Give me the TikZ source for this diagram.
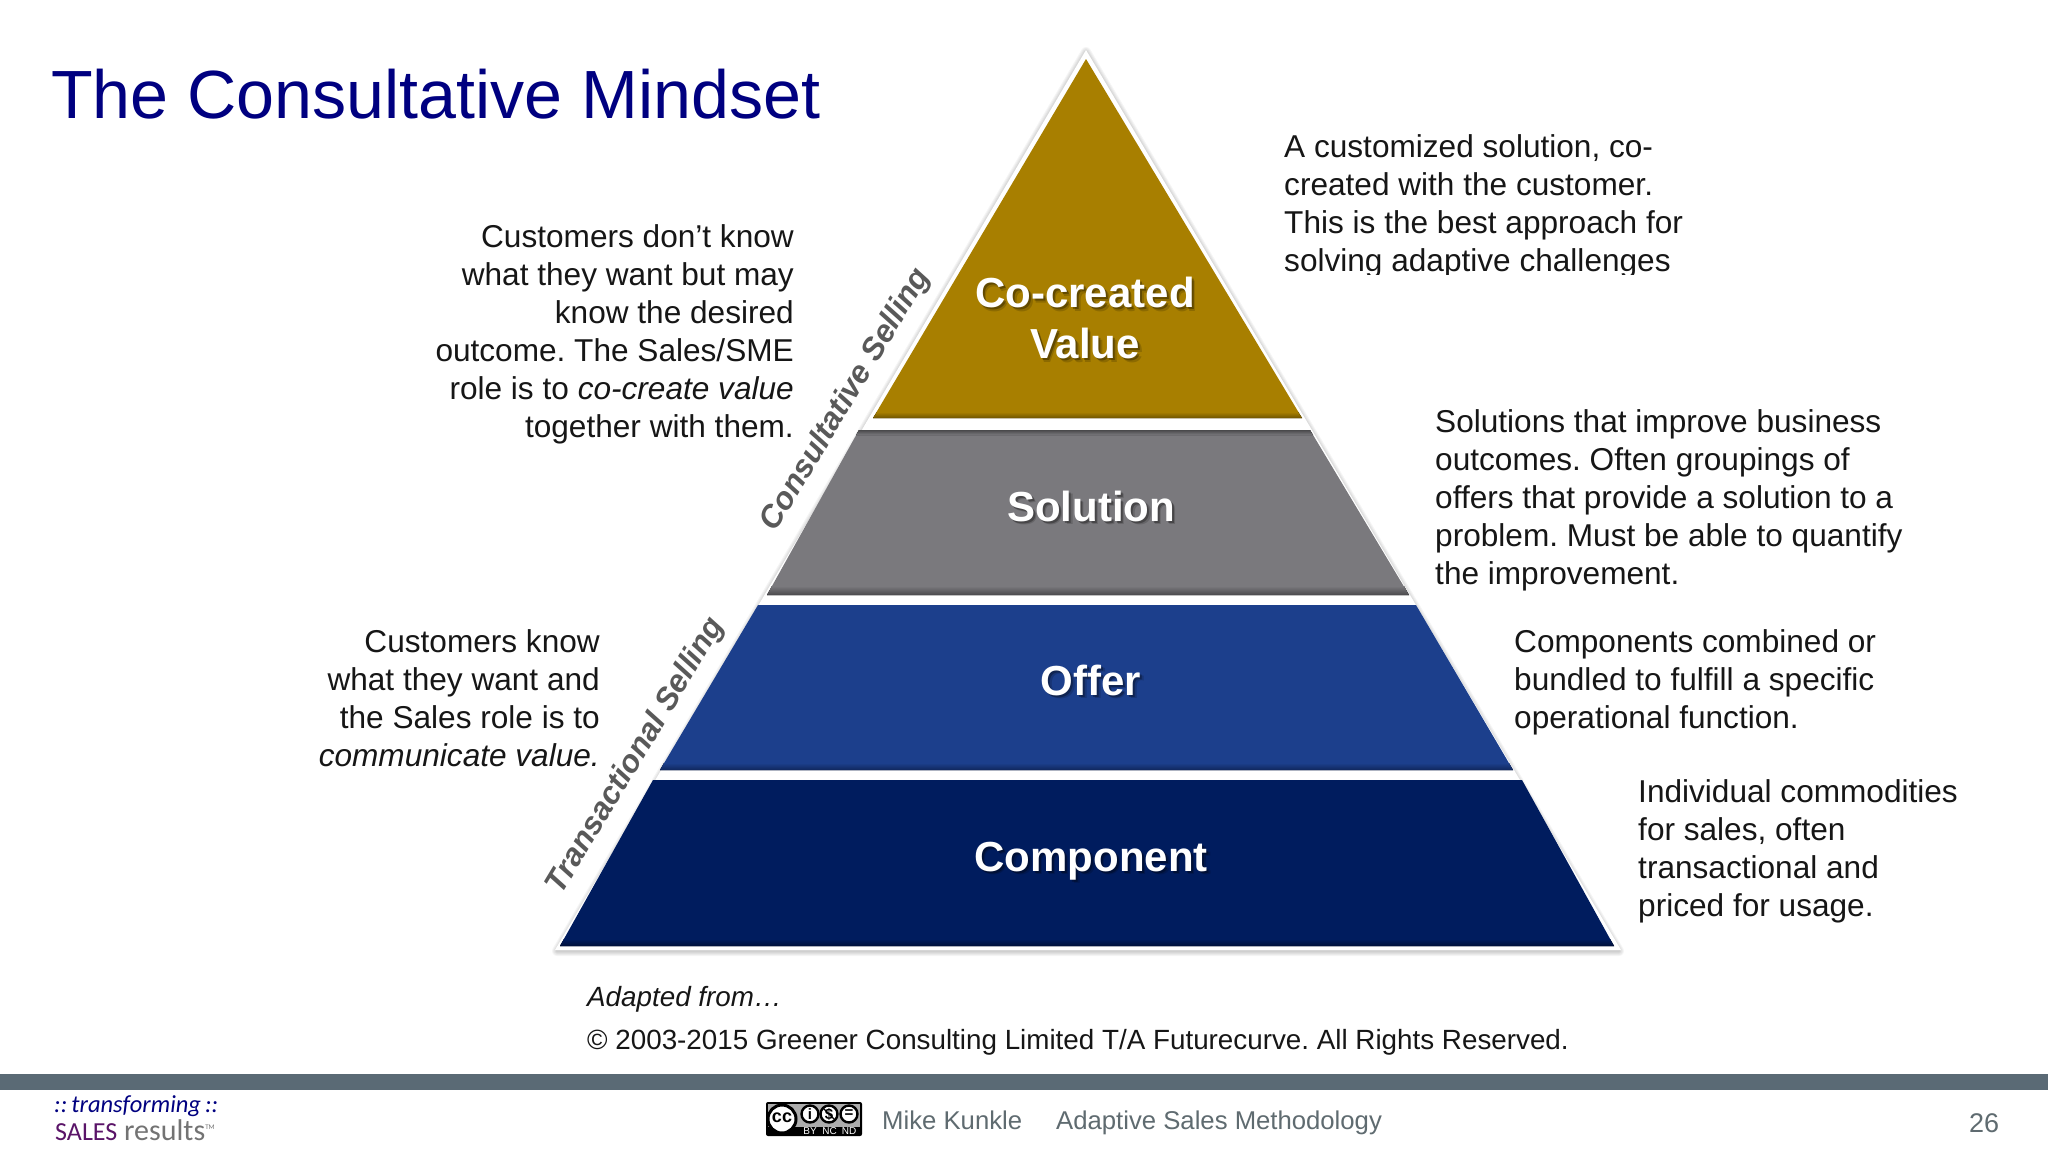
\documentclass[tikz,border=0pt]{standalone}
\usepackage{fontspec}
\setmainfont{Liberation Sans}
\newfontfamily\logofont{Carlito}
\frenchspacing
\definecolor{titleblue}{HTML}{000080}
\definecolor{gold}{HTML}{A87F00}
\definecolor{golddark}{HTML}{6F5500}
\definecolor{solgray}{HTML}{7A797D}
\definecolor{soldark}{HTML}{4A494C}
\definecolor{offerblue}{HTML}{1C3F8C}
\definecolor{offerdark}{HTML}{10275C}
\definecolor{compblue}{HTML}{001C5E}
\definecolor{compdark}{HTML}{000F38}
\definecolor{barcol}{HTML}{5A6A75}
\definecolor{bodytext}{HTML}{161616}
\definecolor{labelgray}{HTML}{595959}
\definecolor{foot}{HTML}{5F6B70}
\tikzset{
  x=1pt,y=-1pt,
  body/.style={inner sep=0pt,text=bodytext,font=\fontsize{31.6}{38}\selectfont,text depth=0pt},
  bodyr/.style={body,align=right,anchor=north east},
  bodyl/.style={body,align=left,anchor=north west},
  tier/.style={inner sep=0pt,text=white,font=\fontsize{42}{51}\selectfont\bfseries,align=center},
  side/.style={inner sep=0pt,text=labelgray,font=\fontsize{31.4}{31.4}\selectfont\bfseries\itshape},
  foottext/.style={inner sep=0pt,text=foot,font=\fontsize{25.7}{25.7}\selectfont,anchor=base west},
  credit/.style={inner sep=0pt,anchor=base west,text=bodytext,font=\fontsize{27.8}{27.8}\selectfont},
  halo/.style={draw=black,opacity=.04,line join=round,fill=none},
  ccring/.style={fill=white,draw=black,line width=2.4pt},
  ccsmall/.style={inner sep=0pt,text=white,font=\fontsize{10}{10}\selectfont},
  ccsym/.style={inner sep=0pt,font=\fontsize{15}{15}\selectfont\bfseries},
}
\newcommand{\tierlabel}[3]{%
  \node[tier,text=black,opacity=.16] at (#1+3.5,#2+3.5) {#3};
  \node[tier,text=black,opacity=.3] at (#1+2,#2+2) {#3};
  \node[tier] (#1-#2) at (#1,#2) {#3};}
\begin{document}
\begin{tikzpicture}
\useasboundingbox (0,0) rectangle (2048,1152);
\fill[white] (0,0) rectangle (2048,1152);
% pyramid backing with a soft shadow
\foreach \w in {10,8,6,4,2}{
  \draw[halo,line width=\w pt] (1086,52) -- (1619,951) -- (557,951) -- cycle;}
\fill[white] (1086,50) -- (1621,950) -- (555,950) -- cycle;
% tiers
\fill[gold] (1086,59) -- (1302,418) -- (873,418) -- cycle;
\fill[bottom color=golddark,top color=gold] (877,412) -- (1298,412) -- (1302,418) -- (873,418) -- cycle;
\fill[solgray] (859,430) -- (1310,430) -- (1409,595) -- (767,595) -- cycle;
\fill[top color=solgray!60!black,bottom color=solgray] (859,430) -- (1310,430) -- (1313,435) -- (856,435) -- cycle;
\fill[bottom color=soldark,top color=solgray] (772,586) -- (1404,586) -- (1409,595) -- (767,595) -- cycle;
\fill[offerblue] (758,605) -- (1416,605) -- (1513,770) -- (660,770) -- cycle;
\fill[bottom color=offerdark,top color=offerblue] (664,763) -- (1509,763) -- (1513,770) -- (660,770) -- cycle;
\fill[compblue] (653,780) -- (1522,780) -- (1614,946) -- (560,946) -- cycle;
\fill[bottom color=compdark,top color=compblue] (564,939) -- (1610,939) -- (1614,946) -- (560,946) -- cycle;
% tier labels
\tierlabel{1085}{318}{Co-created\\[0pt]Value}
\tierlabel{1091}{506}{Solution}
\tierlabel{1091}{680}{Offer}
\tierlabel{1091}{861}{Component}
% title
\node[inner sep=0pt,anchor=base west,text=titleblue,font=\fontsize{68.2}{68.2}\selectfont] (title) at (51,118) {The Consultative Mindset};
% right texts
\begin{scope}
\clip (1270,120) rectangle (1720,274);
\node[bodyl] (t1) at (1284,134.5) {A customized solution, co-\\created with the customer.\\This is the best approach for\\solving adaptive challenges};
\end{scope}
\node[bodyl] (t2) at (1435,409.5) {Solutions that improve business\\outcomes. Often groupings of\\offers that provide a solution to a\\problem. Must be able to quantify\\the improvement.};
\node[bodyl] (t3) at (1514,629.5) {Components combined or\\bundled to fulfill a specific\\operational function.};
\node[bodyl] (t4) at (1638,779.5) {Individual commodities\\for sales, often\\transactional and\\priced for usage.};
% left texts
\node[bodyr] (l1) at (794,224.5) {Customers don’t know\\what they want but may\\know the desired\\outcome. The Sales/SME\\role is to \textit{co-create value}\\together with them.};
\node[bodyr] (l2) at (600,629.5) {Customers know\\what they want and\\the Sales role is to\\\textit{communicate value.}};
% side labels
\node[side,rotate=59] (cs) at (846,400) {Consultative Selling};
\node[side,rotate=59] (ts) at (636,756) {Transactional Selling};
% source
\node[credit,font=\fontsize{27.8}{27.8}\selectfont\itshape] (ad) at (587,1006) {Adapted from…};
\node[credit] (cr) at (587,1049) {© 2003-2015 Greener Consulting Limited T/A Futurecurve. All Rights Reserved.};
% footer
\fill[barcol] (0,1074) rectangle (2048,1090);
\node[inner sep=0pt,anchor=base west,text=titleblue,font=\logofont\fontsize{24.5}{24.5}\selectfont\itshape] (lg1) at (54,1112) {::\,transforming\,::};
\node[inner sep=0pt,anchor=base west,text=black!55,font=\logofont\fontsize{30}{30}\selectfont] (lg2) at (55,1140) {{\fontsize{26}{26}\selectfont\textcolor[HTML]{5A1468}{SALES}} results\raisebox{11pt}{\fontsize{7}{7}\selectfont TM}};
% cc badge
\fill[black,rounded corners=2pt] (766,1102) rectangle (862,1136);
\fill[black!32] (768,1104) rectangle (860,1127);
\filldraw[ccring,line width=3pt] (782,1119) circle (14);
\node[ccsym,font=\fontsize{18}{18}\selectfont\bfseries] (cc) at (782,1118) {cc};
\filldraw[ccring] (810,1114) circle (8.5);
\node[ccsym] (ccby) at (810,1114) {i};
\filldraw[ccring] (829,1114) circle (8.5);
\node[ccsym] (ccnc) at (829,1114) {\$};
\draw[black,line width=1.2pt] (823,1108) -- (835,1120);
\filldraw[ccring] (849,1114) circle (8.5);
\node[ccsym] (ccnd) at (849,1114) {=};
\node[ccsmall] (l-by) at (810,1131.5) {BY};
\node[ccsmall] (l-nc) at (829.5,1131.5) {NC};
\node[ccsmall] (l-nd) at (849,1131.5) {ND};
\node[foottext] (mk) at (882,1129.5) {Mike Kunkle};
\node[foottext] (asm) at (1056,1129.5) {Adaptive Sales Methodology};
\node[foottext,font=\fontsize{27}{27}\selectfont] (pg) at (1969,1132) {26};
\end{tikzpicture}
\end{document}
